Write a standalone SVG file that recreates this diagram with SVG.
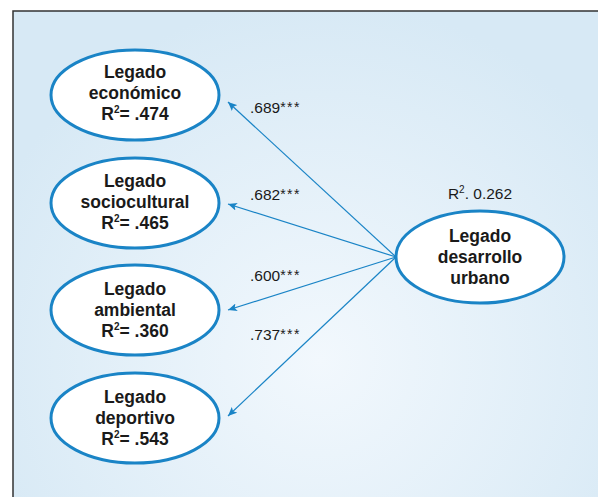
<svg xmlns="http://www.w3.org/2000/svg" width="598" height="497" viewBox="0 0 598 497">
<style>
.node ellipse{fill:#fff;stroke:#1a84c6;stroke-width:3}
.node text{font-family:"Liberation Sans",Arial,sans-serif;font-weight:bold;font-size:17.5px;fill:#1a1a1a;text-anchor:middle}
.conn line{stroke:#1a84c6;stroke-width:1.2}
.lbl{font-family:"Liberation Sans",Arial,sans-serif;font-size:15.5px;fill:#1a1a1a}
.ast{font-size:14px;letter-spacing:1.5px}
</style>
<defs>
<radialGradient id="bg" gradientUnits="userSpaceOnUse" cx="320" cy="360" r="360">
<stop offset="0" stop-color="#f2f8fd"/>
<stop offset="1" stop-color="#d7e9f5"/>
</radialGradient>
<marker id="ah" markerUnits="userSpaceOnUse" markerWidth="10" markerHeight="8" refX="9" refY="4" orient="auto">
<path d="M0,0 L9,4 L0,8 L2,4 z" fill="#1a84c6"/>
</marker>
</defs>
<rect x="0" y="0" width="598" height="497" fill="#fff"/>
<rect x="13" y="11" width="600" height="500" fill="url(#bg)" stroke="#333" stroke-width="1.5"/>
<g class="conn">
<line x1="396" y1="257" x2="228" y2="102" marker-end="url(#ah)"/>
<line x1="396" y1="257" x2="228" y2="204" marker-end="url(#ah)"/>
<line x1="396" y1="257" x2="228" y2="310" marker-end="url(#ah)"/>
<line x1="396" y1="257" x2="228" y2="416" marker-end="url(#ah)"/>
<text class="lbl" x="250" y="113">.689<tspan class="ast" dy="-1">***</tspan></text>
<text class="lbl" x="250" y="200">.682<tspan class="ast" dy="-1">***</tspan></text>
<text class="lbl" x="250" y="281">.600<tspan class="ast" dy="-1">***</tspan></text>
<text class="lbl" x="250" y="340">.737<tspan class="ast" dy="-1">***</tspan></text>
</g>
<g id="n1" class="node">
<ellipse cx="135" cy="95" rx="84" ry="45"/>
<text x="135" y="78">Legado</text>
<text x="135" y="99">económico</text>
<text x="135" y="120">R<tspan font-size="10" dy="-7">2</tspan><tspan dy="7">= .474</tspan></text>
</g>
<g id="n2" class="node">
<ellipse cx="135" cy="203" rx="84" ry="45"/>
<text x="135" y="187">Legado</text>
<text x="135" y="208">sociocultural</text>
<text x="135" y="229">R<tspan font-size="10" dy="-7">2</tspan><tspan dy="7">= .465</tspan></text>
</g>
<g id="n3" class="node">
<ellipse cx="135" cy="310" rx="84" ry="45"/>
<text x="135" y="295">Legado</text>
<text x="135" y="316">ambiental</text>
<text x="135" y="337">R<tspan font-size="10" dy="-7">2</tspan><tspan dy="7">= .360</tspan></text>
</g>
<g id="n4" class="node">
<ellipse cx="135" cy="418" rx="84" ry="45"/>
<text x="135" y="403">Legado</text>
<text x="135" y="424">deportivo</text>
<text x="135" y="445">R<tspan font-size="10" dy="-7">2</tspan><tspan dy="7">= .543</tspan></text>
</g>
<g id="n5" class="node">
<ellipse cx="480" cy="257" rx="84" ry="46"/>
<text x="480" y="242">Legado</text>
<text x="480" y="263">desarrollo</text>
<text x="480" y="284">urbano</text>
</g>
<text class="lbl" x="480" y="199" text-anchor="middle" style="font-size:15.5px">R<tspan font-size="10" dy="-6">2</tspan><tspan dy="6">. 0.262</tspan></text>
</svg>
